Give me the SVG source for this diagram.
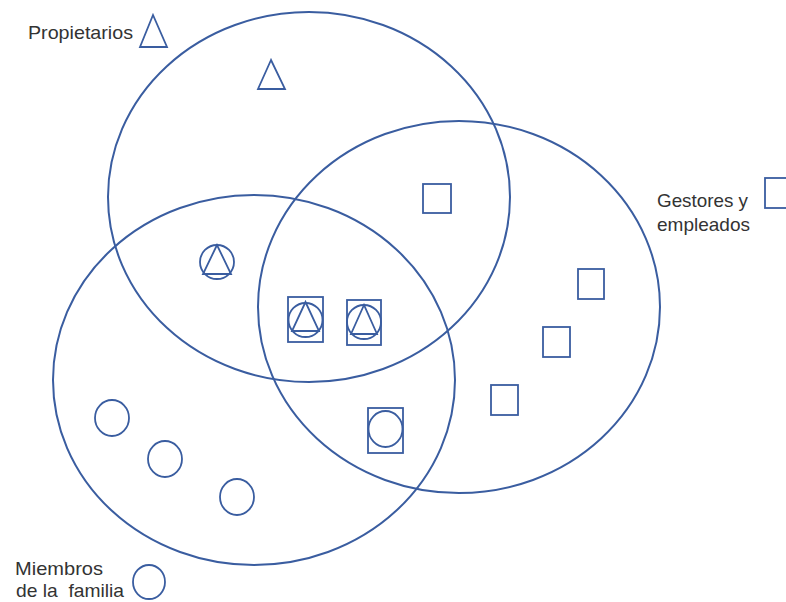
<svg xmlns="http://www.w3.org/2000/svg" width="786" height="602" viewBox="0 0 786 602">
<style>
.s{fill:none;stroke:#3a5da0;stroke-width:2}
.b{fill:none;stroke:#3a5da0;stroke-width:1.8}
.t{font-family:"Liberation Sans",Arial,sans-serif;font-size:18.5px;fill:#333;white-space:pre}
</style>
<rect width="786" height="602" fill="#fff"/>
<g id="connectors"></g>
<g id="set-propietarios"><ellipse class="s" cx="309" cy="197" rx="201" ry="185"/></g>
<g id="set-gestores"><ellipse class="s" cx="459" cy="307" rx="201" ry="186"/></g>
<g id="set-miembros"><ellipse class="s" cx="254" cy="380" rx="201" ry="185"/></g>
<g id="legend-propietarios">
<text class="t" x="28" y="39" textLength="105" lengthAdjust="spacingAndGlyphs">Propietarios</text>
<polygon class="b" points="153,15 140,47 167,47"/>
</g>
<g id="legend-gestores">
<text class="t" x="657" y="207" textLength="91" lengthAdjust="spacingAndGlyphs">Gestores y</text>
<text class="t" x="657" y="231" textLength="93" lengthAdjust="spacingAndGlyphs">empleados</text>
<rect class="b" x="765" y="178" width="30" height="30"/>
</g>
<g id="legend-miembros">
<text class="t" x="15" y="575" textLength="88" lengthAdjust="spacingAndGlyphs">Miembros</text>
<text class="t" x="16" y="597" xml:space="preserve" textLength="108" lengthAdjust="spacingAndGlyphs">de la  familia</text>
<ellipse class="b" cx="149" cy="582" rx="16" ry="17"/>
</g>
<g id="p1"><polygon class="b" points="271,60 258,89 285,89"/></g>
<g id="g1"><rect class="b" x="423" y="184" width="28" height="29"/></g>
<g id="g2"><rect class="b" x="578" y="269" width="26" height="30"/></g>
<g id="g3"><rect class="b" x="543" y="327" width="27" height="30"/></g>
<g id="g4"><rect class="b" x="491" y="385" width="27" height="30"/></g>
<g id="pm1"><circle class="b" cx="217" cy="262" r="17"/><polygon class="b" points="217,245 203,274 231,274"/></g>
<g id="pgm1"><rect class="b" x="288" y="297" width="35" height="45"/><circle class="b" cx="305.5" cy="320" r="17"/><polygon class="b" points="305.5,302 292,331 319,331"/></g>
<g id="pgm2"><rect class="b" x="347" y="300" width="34" height="45"/><circle class="b" cx="364" cy="322" r="17"/><polygon class="b" points="364,305 351,334 377,334"/></g>
<g id="gm1"><rect class="b" x="368" y="408" width="35" height="45"/><ellipse class="b" cx="385.5" cy="429" rx="17" ry="18"/></g>
<g id="m1"><ellipse class="b" cx="112" cy="418" rx="17" ry="18"/></g>
<g id="m2"><ellipse class="b" cx="165" cy="459" rx="17" ry="18"/></g>
<g id="m3"><ellipse class="b" cx="237" cy="497" rx="17" ry="18"/></g>
</svg>
